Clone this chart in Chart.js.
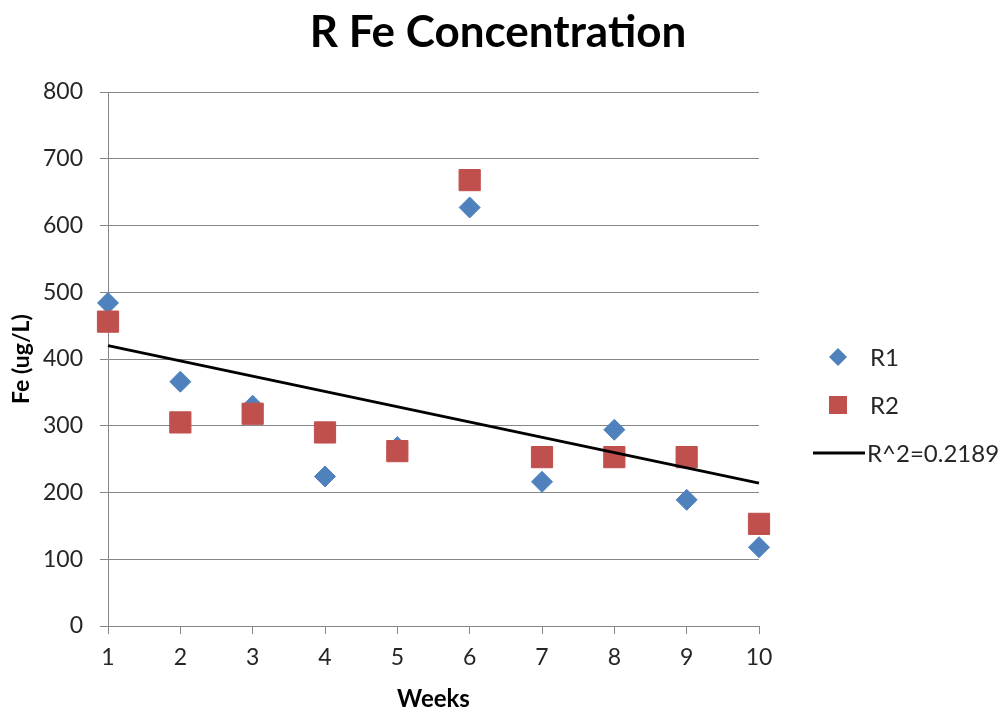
<!DOCTYPE html>
<html>
<head>
<meta charset="utf-8">
<title>R Fe Concentration</title>
<script src="https://cdn.jsdelivr.net/npm/chart.js@4.4.1/dist/chart.umd.min.js"></script>
<style>
    html, body { margin: 0; padding: 0; background: #fff; }
    #wrap { width: 1005px; height: 714px; }
</style>
</head>
<body>
<div id="wrap"><canvas id="feChart" width="1005" height="714"></canvas></div>
<script>
// Data
const weeks = [1, 2, 3, 4, 5, 6, 7, 8, 9, 10];
const r1Values = [484, 366, 330, 224, 268, 627, 216, 294, 189, 118];
const r2Values = [456, 305, 318, 290, 262, 668, 253, 253, 253, 153];
const trendWeeks = [1, 10];
const trendValues = [420, 214];
const seriesLabels = ['R1', 'R2', 'R^2=0.2189'];

const FONT = 'Lato, "Open Sans", sans-serif';
const GRID = '#868686';
const TEXT = '#262626';

function toPoints(xs, ys) {
    return xs.map((x, i) => ({ x: x, y: ys[i] }));
}

// Title + legend drawn by hand, Excel style
const decorPlugin = {
    id: 'decor',
    afterDraw(chart) {
        const ctx = chart.ctx;
        ctx.save();

        // Title
        ctx.fillStyle = '#000';
        ctx.font = 'bold 44px ' + FONT;
        ctx.textAlign = 'center';
        ctx.textBaseline = 'alphabetic';
        ctx.fillText('R Fe Concentration', 498, 47);

        // Legend
        const ds = chart.data.datasets;
        const lx = 838;
        const ys = [357, 405, 453];
        ctx.font = '24px ' + FONT;
        ctx.textAlign = 'left';
        ctx.textBaseline = 'middle';

        // R1 diamond
        ctx.fillStyle = ds[0].backgroundColor;
        ctx.beginPath();
        ctx.moveTo(lx, ys[0] - 9);
        ctx.lineTo(lx + 9, ys[0]);
        ctx.lineTo(lx, ys[0] + 9);
        ctx.lineTo(lx - 9, ys[0]);
        ctx.closePath();
        ctx.fill();
        ctx.fillStyle = TEXT;
        ctx.fillText(ds[0].label, 870, ys[0] + 1);

        // R2 square
        ctx.fillStyle = ds[1].backgroundColor;
        ctx.fillRect(lx - 9, ys[1] - 9, 18, 18);
        ctx.fillStyle = TEXT;
        ctx.fillText(ds[1].label, 870, ys[1] + 1);

        // trend line
        ctx.strokeStyle = ds[2].borderColor;
        ctx.lineWidth = 3;
        ctx.beginPath();
        ctx.moveTo(813, ys[2]);
        ctx.lineTo(865, ys[2]);
        ctx.stroke();
        ctx.fillStyle = TEXT;
        ctx.fillText(ds[2].label, 867, ys[2] + 1);

        ctx.restore();
    }
};

const ctx = document.getElementById('feChart').getContext('2d');
new Chart(ctx, {
    type: 'scatter',
    data: {
        datasets: [
            {
                label: seriesLabels[0],
                data: toPoints(weeks, r1Values),
                pointStyle: 'rectRot',
                pointRadius: 10.5,
                backgroundColor: '#4F81BD',
                borderColor: '#4F81BD',
                borderWidth: 1,
                order: 2,
                clip: false
            },
            {
                label: seriesLabels[1],
                data: toPoints(weeks, r2Values),
                pointStyle: 'rect',
                pointRadius: 15,
                backgroundColor: '#C0504D',
                borderColor: '#C0504D',
                borderWidth: 1,
                order: 1,
                clip: false
            },
            {
                type: 'line',
                label: seriesLabels[2],
                data: toPoints(trendWeeks, trendValues),
                borderColor: '#000',
                borderWidth: 3,
                pointRadius: 0,
                fill: false,
                order: 0,
                clip: false
            }
        ]
    },
    options: {
        responsive: false,
        animation: false,
        events: [],
        layout: {
            padding: { top: 92, right: 246, bottom: 0, left: 0 }
        },
        plugins: {
            legend: { display: false },
            title: { display: false },
            tooltip: { enabled: false }
        },
        scales: {
            x: {
                type: 'linear',
                min: 1,
                max: 10,
                ticks: {
                    stepSize: 1,
                    padding: 10,
                    color: TEXT,
                    font: { family: FONT, size: 23 }
                },
                grid: {
                    drawOnChartArea: false,
                    drawTicks: true,
                    tickLength: 8,
                    color: GRID
                },
                border: { color: GRID, width: 1 },
                title: {
                    display: true,
                    text: 'Weeks',
                    color: '#000',
                    font: { family: FONT, size: 24, weight: 'bold' },
                    padding: { top: 0, bottom: 0 }
                },
                afterFit: scale => { scale.height = 88; }
            },
            y: {
                min: 0,
                max: 800,
                ticks: {
                    stepSize: 100,
                    padding: 17,
                    color: TEXT,
                    font: { family: FONT, size: 23 }
                },
                grid: {
                    color: GRID,
                    lineWidth: 1,
                    tickLength: 8
                },
                border: { color: GRID, width: 1 },
                title: {
                    display: true,
                    text: 'Fe (ug/L)',
                    color: '#000',
                    font: { family: FONT, size: 23, weight: 'bold' },
                    padding: { top: 8, bottom: 4 }
                },
                afterFit: scale => { scale.width = 108; }
            }
        }
    },
    plugins: [decorPlugin]
});
</script>
</body>
</html>
